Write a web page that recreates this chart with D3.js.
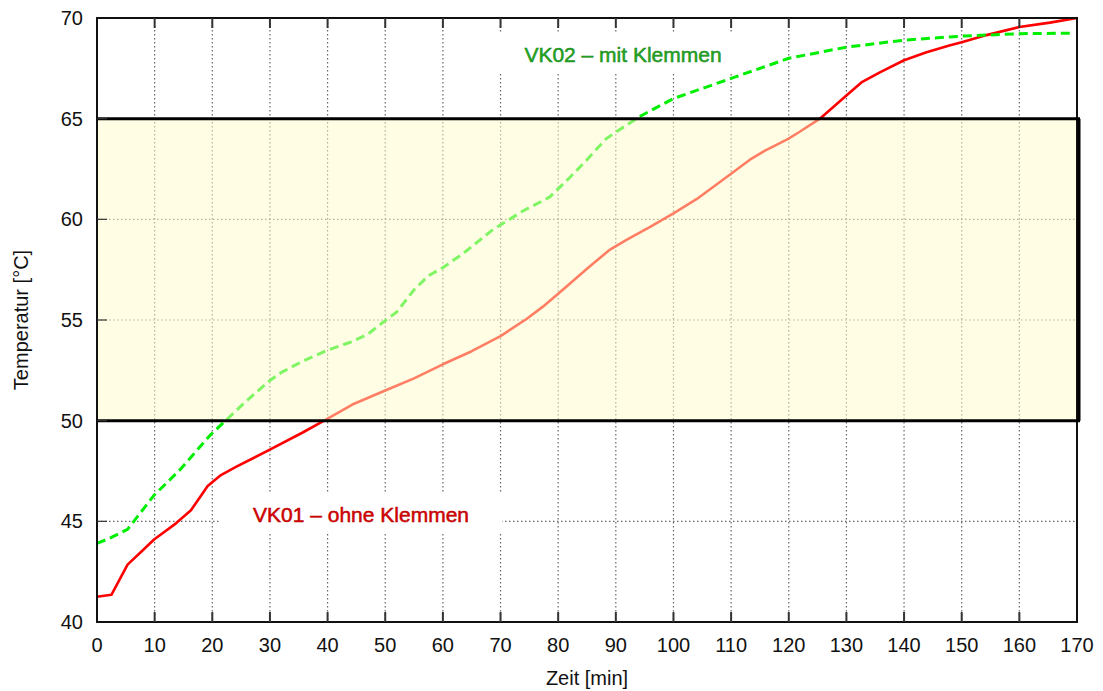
<!DOCTYPE html>
<html>
<head>
<meta charset="utf-8">
<script src="https://cdn.jsdelivr.net/npm/d3@7"></script>
<style>
  body { margin: 0; background: #fff; }
  text { font-family: "Liberation Sans", Arial, sans-serif; }
</style>
</head>
<body>
<svg id="chart" width="1103" height="691"></svg>
<script>
// VK01 - ohne Klemmen (time in min, temperature in °C)
const vk01Time = [0, 2.5, 5.3, 7.9, 9.9, 13.7, 16.3, 19.2, 21.5, 24.1, 29.9, 35.6, 39.4, 44.3, 50, 55, 60, 65, 70, 74.5, 77.3, 80, 82, 85.4, 89, 92, 95.8, 100, 104, 109.7, 113.2, 115.8, 119.9, 121.9, 125.4, 130, 132.6, 135.8, 140, 143.9, 148, 150, 154.3, 160, 165.3, 170];
const vk01Temp = [41.25, 41.35, 42.85, 43.55, 44.1, 44.9, 45.55, 46.75, 47.3, 47.7, 48.55, 49.4, 50.0, 50.8, 51.5, 52.1, 52.8, 53.45, 54.2, 55.05, 55.65, 56.3, 56.8, 57.65, 58.5, 59.0, 59.6, 60.3, 61.0, 62.2, 62.95, 63.4, 64.0, 64.35, 65.0, 66.15, 66.8, 67.3, 67.9, 68.3, 68.65, 68.8, 69.15, 69.55, 69.77, 70.0];

// VK02 - mit Klemmen
const vk02Time = [0, 2.5, 5.3, 9.9, 14.2, 19.7, 22.3, 26, 30, 32, 36, 40, 44, 47, 49, 52, 55, 57.5, 60, 63.5, 68.5, 73.8, 78.5, 81.4, 84.8, 88.3, 90.1, 94.1, 100, 110, 120, 130, 140, 150, 160, 169.5];
const vk02Temp = [43.9, 44.2, 44.6, 46.3, 47.5, 49.3, 50.0, 51.0, 52.0, 52.4, 53.0, 53.5, 53.9, 54.3, 54.75, 55.4, 56.5, 57.2, 57.6, 58.3, 59.45, 60.4, 61.1, 61.9, 62.9, 64.0, 64.35, 65.1, 66.0, 67.0, 68.0, 68.55, 68.9, 69.1, 69.22, 69.25];

const xTicks = d3.range(0, 171, 10);
const yTicks = d3.range(40, 71, 5);
const bandRange = [50, 65];
const seriesLabels = ['VK01 – ohne Klemmen', 'VK02 – mit Klemmen'];

const svg = d3.select('#chart');
const x = d3.scaleLinear().domain([0, 170]).range([97, 1077]);
const y = d3.scaleLinear().domain([40, 70]).range([622, 18]);

// grid
const grid = svg.append('g')
  .attr('stroke', '#666')
  .attr('stroke-width', 1.2)
  .attr('stroke-dasharray', '1.5,2.5');
xTicks.slice(1, -1).forEach((t) => {
  grid.append('line').attr('x1', x(t)).attr('x2', x(t)).attr('y1', y(70)).attr('y2', y(40));
});
yTicks.slice(1, -1).forEach((t) => {
  grid.append('line').attr('x1', x(0)).attr('x2', x(170)).attr('y1', y(t)).attr('y2', y(t));
});

// white boxes behind the labels
svg.append('rect').attr('x', 220).attr('y', 494).attr('width', 282).attr('height', 40).attr('fill', '#fff');
svg.append('rect').attr('x', 495).attr('y', 33).attr('width', 257).attr('height', 40).attr('fill', '#fff');

const line = d3.line().x((d) => x(d[0])).y((d) => y(d[1]));

svg.append('path')
  .datum(vk01Time.map((t, i) => [t, vk01Temp[i]]))
  .attr('d', line)
  .attr('fill', 'none')
  .attr('stroke', '#ff0000')
  .attr('stroke-width', 2.6)
  .attr('stroke-linejoin', 'round');

svg.append('path')
  .datum(vk02Time.map((t, i) => [t, vk02Temp[i]]))
  .attr('d', line)
  .attr('fill', 'none')
  .attr('stroke', '#00ee00')
  .attr('stroke-width', 3)
  .attr('stroke-dasharray', '9,5');

// tolerance band on top, half transparent
svg.append('rect')
  .attr('x', x(0))
  .attr('y', y(bandRange[1]))
  .attr('width', x(170) + 2 - x(0))
  .attr('height', y(bandRange[0]) - y(bandRange[1]))
  .attr('fill', '#fffbc8')
  .attr('opacity', 0.5);

// frame
svg.append('rect')
  .attr('x', x(0)).attr('y', y(70))
  .attr('width', x(170) - x(0)).attr('height', y(40) - y(70))
  .attr('fill', 'none').attr('stroke', '#111').attr('stroke-width', 2);

// band borders
const band = svg.append('g').attr('stroke', '#000').attr('stroke-width', 3);
bandRange.forEach((v) => {
  band.append('line').attr('x1', x(0)).attr('x2', x(170) + 3).attr('y1', y(v)).attr('y2', y(v));
});
band.append('line').attr('x1', x(170) + 2).attr('x2', x(170) + 2).attr('y1', y(bandRange[1])).attr('y2', y(bandRange[0]));

// ticks
const ticks = svg.append('g').attr('stroke', '#333').attr('stroke-width', 2);
xTicks.slice(1, -1).forEach((t) => {
  ticks.append('line').attr('x1', x(t)).attr('x2', x(t)).attr('y1', y(70)).attr('y2', y(70) + 10);
  ticks.append('line').attr('x1', x(t)).attr('x2', x(t)).attr('y1', y(40)).attr('y2', y(40) - 10);
});
yTicks.slice(1, -1).forEach((t) => {
  ticks.append('line').attr('x1', x(0)).attr('x2', x(0) + 10).attr('y1', y(t)).attr('y2', y(t))
    .attr('stroke-width', 1.2);
});

// tick labels
svg.append('g').selectAll('text').data(xTicks).join('text')
  .attr('x', (d) => x(d)).attr('y', 645)
  .attr('text-anchor', 'middle').attr('dominant-baseline', 'central')
  .attr('font-size', 20).attr('fill', '#111')
  .text((d) => d);

svg.append('g').selectAll('text').data(yTicks).join('text')
  .attr('x', 83).attr('y', (d) => y(d))
  .attr('text-anchor', 'end').attr('dominant-baseline', 'central')
  .attr('font-size', 20).attr('fill', '#111')
  .text((d) => d);

// axis titles
svg.append('text')
  .attr('x', (x(0) + x(170)) / 2).attr('y', 678)
  .attr('text-anchor', 'middle').attr('dominant-baseline', 'central')
  .attr('font-size', 20).attr('fill', '#111')
  .text('Zeit [min]');

svg.append('text')
  .attr('transform', 'translate(21,320) rotate(-90)')
  .attr('text-anchor', 'middle').attr('dominant-baseline', 'central')
  .attr('font-size', 20).attr('fill', '#111')
  .text('Temperatur [°C]');

// series labels
svg.append('text')
  .attr('x', 361).attr('y', 514)
  .attr('text-anchor', 'middle').attr('dominant-baseline', 'central')
  .attr('font-size', 21).attr('fill', '#dd0000')
  .attr('stroke', '#b00000').attr('stroke-width', 0.5)
  .text(seriesLabels[0]);

svg.append('text')
  .attr('x', 623).attr('y', 54)
  .attr('text-anchor', 'middle').attr('dominant-baseline', 'central')
  .attr('font-size', 21).attr('fill', '#22a822')
  .attr('stroke', '#1a861a').attr('stroke-width', 0.5)
  .text(seriesLabels[1]);
</script>
</body>
</html>
